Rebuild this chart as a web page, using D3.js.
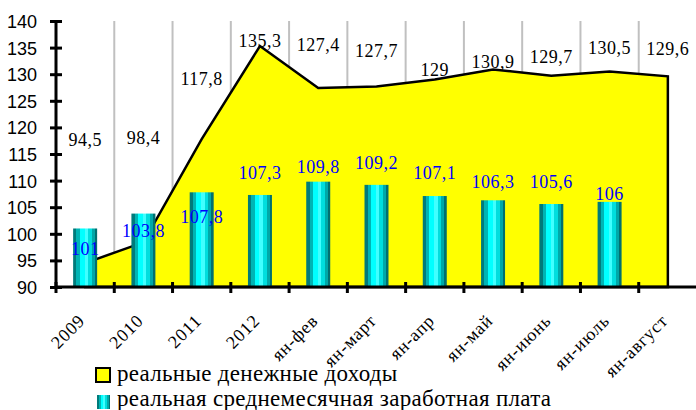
<!DOCTYPE html>
<meta charset="utf-8">
<style>
    body { margin: 0; background: #fff; }
</style>
<svg width="696" height="410"></svg>
<script src="https://cdn.jsdelivr.net/npm/d3@7"></script>
<script>

    // categories along the x axis
    var categories = ["2009", "2010", "2011", "2012", "ян-фев", "ян-март", "ян-апр",
                      "ян-май", "ян-июнь", "ян-июль", "ян-август"];

    // реальные денежные доходы (area)
    var incomeValues = [94.5, 98.4, 117.8, 135.3, 127.4, 127.7, 129, 130.9, 129.7, 130.5, 129.6];

    // реальная среднемесячная заработная плата (bars), no value for ян-август
    var wageValues = [101, 103.8, 107.8, 107.3, 109.8, 109.2, 107.1, 106.3, 105.6, 106];

    var yTicks = [90, 95, 100, 105, 110, 115, 120, 125, 130, 135, 140];

    var seriesNames = ["реальные денежные доходы", "реальная среднемесячная заработная плата"];

    // label placement tweaks (pixels, relative to the value position)
    var incomeLabelDy = [-123, -105, -60, -5, -43, -36, -10, -8, -19, -24, -28];
    var wageLabelDy = [20, 17, 24, -22, -15, -22, -23, -19, -22, -8];

    var serif = "'Liberation Serif', 'Times New Roman', 'DejaVu Serif', serif";
    var sans = "'Liberation Sans', Arial, sans-serif";

    var fmt = function(v) { return String(v).replace(".", ","); };

    var svg = d3.select("svg");

    var x = d3.scaleBand()
        .domain(categories)
        .range([56, 697]);

    var y = d3.scaleLinear()
        .domain([90, 140])
        .range([287, 21]);

    // bar gradient (cylinder look)
    var grad = svg.append("defs").append("linearGradient")
        .attr("id", "cyl")
        .attr("x1", 0).attr("x2", 1).attr("y1", 0).attr("y2", 0);
    [[0, "#007b7b"], [0.14, "#007b7b"], [0.14, "#00b4b4"], [0.28, "#00b4b4"],
     [0.28, "#00ffff"], [0.48, "#00ffff"], [0.48, "#40ffff"], [0.62, "#40ffff"],
     [0.62, "#00dede"], [0.78, "#00dede"], [0.78, "#00a8a8"], [0.9, "#00a8a8"],
     [0.9, "#007070"], [1, "#007070"]].forEach(function(s) {
        grad.append("stop").attr("offset", s[0]).attr("stop-color", s[1]);
    });

    // vertical gridlines at category boundaries
    svg.append("g")
        .selectAll("line")
        .data(categories)
        .enter().append("line")
        .attr("x1", function(d) { return x(d) + x.step(); })
        .attr("x2", function(d) { return x(d) + x.step(); })
        .attr("y1", y(140))
        .attr("y2", y(90))
        .attr("stroke", "#c0c0c0")
        .attr("stroke-width", 2);

    var cx = function(d) { return x(d) + x.bandwidth() / 2; };

    // area
    var area = d3.area()
        .x(function(d, i) { return cx(categories[i]); })
        .y0(y(90))
        .y1(function(d) { return y(d); });

    svg.append("path")
        .datum(incomeValues)
        .attr("d", area)
        .attr("fill", "#ffff00")
        .attr("stroke", "#000")
        .attr("stroke-width", 2.5)
        .attr("stroke-linejoin", "miter");

    // bars
    var barW = 24;
    svg.append("g")
        .selectAll("rect")
        .data(wageValues)
        .enter().append("rect")
        .attr("x", function(d, i) { return cx(categories[i]) - barW / 2; })
        .attr("y", function(d) { return y(d); })
        .attr("width", barW)
        .attr("height", function(d) { return y(90) - y(d); })
        .attr("fill", "url(#cyl)");

    // axes
    var yAxis = svg.append("g")
        .attr("transform", "translate(56,0)")
        .call(d3.axisLeft(y).tickValues(yTicks).tickSize(6).tickPadding(13));
    yAxis.select(".domain").remove();
    yAxis.selectAll(".tick line")
        .attr("x1", -6).attr("x2", 6)
        .attr("stroke", "#000").attr("stroke-width", 3);
    yAxis.selectAll(".tick text")
        .attr("fill", "#000")
        .attr("dy", "0.36em")
        .style("font-family", sans)
        .style("font-size", "18px");
    yAxis.append("line")
        .attr("x1", 0).attr("x2", 0)
        .attr("y1", y(140)).attr("y2", y(90) + 1)
        .attr("stroke", "#000").attr("stroke-width", 3);

    var xAxis = svg.append("g")
        .attr("transform", "translate(0," + y(90) + ")");
    xAxis.append("line")
        .attr("x1", 56).attr("x2", 697)
        .attr("stroke", "#000").attr("stroke-width", 3);
    xAxis.selectAll("line.tk")
        .data(categories)
        .enter().append("line")
        .attr("class", "tk")
        .attr("x1", function(d) { return x(d); })
        .attr("x2", function(d) { return x(d); })
        .attr("y1", -5).attr("y2", 6)
        .attr("stroke", "#000").attr("stroke-width", 3);
    xAxis.selectAll("text")
        .data(categories)
        .enter().append("text")
        .attr("transform", function(d) { return "translate(" + (cx(d) - 8) + ",26) rotate(-45)"; })
        .attr("text-anchor", "end")
        .attr("dy", "0.7em")
        .style("font-family", serif)
        .style("font-size", "18px")
        .style("letter-spacing", "0.8px")
        .text(function(d) { return d; });

    // value labels
    svg.append("g")
        .selectAll("text")
        .data(incomeValues)
        .enter().append("text")
        .attr("x", function(d, i) { return cx(categories[i]); })
        .attr("y", function(d, i) { return y(d) + incomeLabelDy[i]; })
        .attr("dy", "0.35em")
        .attr("text-anchor", "middle")
        .style("font-family", serif)
        .style("font-size", "18px")
        .style("letter-spacing", "0.5px")
        .attr("fill", "#000")
        .text(fmt);

    svg.append("g")
        .selectAll("text")
        .data(wageValues)
        .enter().append("text")
        .attr("x", function(d, i) { return cx(categories[i]); })
        .attr("y", function(d, i) { return y(d) + wageLabelDy[i]; })
        .attr("dy", "0.35em")
        .attr("text-anchor", "middle")
        .style("font-family", serif)
        .style("font-size", "18px")
        .style("letter-spacing", "0.5px")
        .attr("fill", "#0000ff")
        .text(fmt);

    // legend
    var legend = svg.append("g");
    legend.append("rect")
        .attr("x", 96).attr("y", 368).attr("width", 14).attr("height", 14)
        .attr("fill", "#ffff00").attr("stroke", "#000").attr("stroke-width", 2);
    legend.append("rect")
        .attr("x", 97).attr("y", 395).attr("width", 13).attr("height", 14)
        .attr("fill", "url(#cyl)");
    legend.selectAll("text")
        .data(seriesNames)
        .enter().append("text")
        .attr("x", 117)
        .attr("y", function(d, i) { return 381 + i * 25; })
        .style("font-family", serif)
        .style("font-size", "23px")
        .style("letter-spacing", "0.3px")
        .text(function(d) { return d; });

</script>
